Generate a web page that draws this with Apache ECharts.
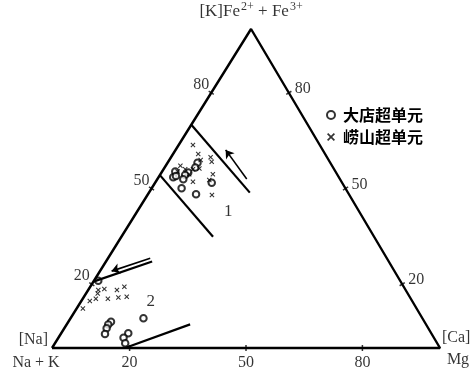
<!DOCTYPE html>
<html>
<head>
<meta charset="utf-8">
<script src="https://cdn.jsdelivr.net/npm/echarts@6/dist/echarts.min.js"></script>
<style>
html, body { margin: 0; padding: 0; background: #fff; }
#chart { width: 475px; height: 376px; }
</style>
</head>
<body>
<div id="chart"></div>
<script>
// compositions in percent: [Na+K, Fe2+ + Fe3+, Mg]
var dadianPts = [
  [34.2, 58.1, 7.7], [35.5, 56.6, 7.9], [38.1, 55.0, 6.9], [39.3, 54.2, 6.5],
  [41.3, 55.3, 3.4], [42.7, 53.5, 3.8], [40.4, 52.9, 6.7], [42.2, 50.1, 7.7],
  [39.4, 48.2, 12.4], [33.6, 51.8, 14.6], [41.8, 53.9, 4.3],
  [77.8, 21.1, 1.1], [80.8, 8.2, 11.0], [81.9, 7.4, 10.7], [82.9, 6.2, 10.9],
  [84.2, 4.4, 11.4], [78.1, 4.6, 17.3], [80.0, 3.2, 16.8], [80.4, 1.5, 18.1],
  [71.9, 9.3, 18.8]
];
var laoshanPts = [
  [32.7, 63.6, 3.7], [32.7, 60.8, 6.5], [33.0, 58.9, 8.1], [30.0, 59.8, 10.2],
  [30.4, 58.4, 11.2], [32.0, 54.5, 13.5], [35.4, 48.0, 16.6], [34.6, 56.3, 9.1],
  [36.4, 56.0, 7.6], [38.4, 56.0, 5.6], [39.1, 57.1, 3.8], [38.1, 54.5, 7.4],
  [38.3, 52.1, 9.6], [40.7, 55.3, 4.0], [33.8, 52.7, 13.5],
  [86.0, 12.4, 1.6], [83.1, 14.7, 2.2], [81.2, 15.4, 3.4], [78.1, 15.4, 6.5],
  [75.2, 15.8, 9.0], [72.9, 16.1, 11.0], [74.4, 18.2, 7.4], [72.0, 19.2, 8.8],
  [77.5, 18.5, 4.0], [79.2, 18.2, 2.6], [79.9, 17.1, 3.0]
];
// field boundaries and trend arrows
var field1Upper = [[30, 70, 0], [25.3, 48.7, 26]];
var field1Lower = [[45.8, 54.2, 0], [41.5, 34.9, 23.6]];
var arrow1 = [[24, 53, 23], [25, 62.1, 12.9]];
var field2Upper = [[79.2, 20.8, 0], [61, 27.1, 11.9]];
var arrow2 = [[61, 28.1, 10.9], [72.9, 24.1, 3]];
var field2Lower = [[81.2, 0, 18.8], [60.8, 7.4, 31.8]];
var fieldNames = ['1', '2'];
var fieldLabelPts = [[33.7, 42.9, 23.4], [67.5, 14.5, 18]];
var tickValues = [20, 50, 80];

var APEX = 0.513; // horizontal position of the top corner along the base
function tern(p) {
  var s = p[0] + p[1] + p[2];
  var f = p[1] / s, m = p[2] / s;
  return [(m + APEX * f) * 100, f * 100];
}

var serif = 'Liberation Serif';
var cross = 'path://M0,1.5L1.5,0L5,3.5L8.5,0L10,1.5L6.5,5L10,8.5L8.5,10L5,6.5L1.5,10L0,8.5L3.5,5Z';

var cornerNa = tern([100, 0, 0]), cornerFe = tern([0, 100, 0]), cornerMg = tern([0, 0, 100]);

function seg(pts) {
  return {
    type: 'line', data: pts.map(tern), symbol: 'none', silent: true, clip: false,
    lineStyle: { color: '#000', width: 2.2 }
  };
}
function arrow(pts) {
  return {
    type: 'lines', coordinateSystem: 'cartesian2d', silent: true,
    symbol: ['none', 'arrow'], symbolSize: 8,
    lineStyle: { color: '#000', width: 1.6, opacity: 1 },
    data: [{ coords: pts.map(tern) }]
  };
}
function ticks(pts, rot) {
  return {
    type: 'scatter', data: pts.map(tern), symbol: 'rect', symbolSize: [1.5, 6],
    symbolRotate: rot, silent: true, clip: false, itemStyle: { color: '#000' }
  };
}
function tickLabels(pts, label) {
  return {
    type: 'scatter', data: pts.map(function (p, i) { return { value: tern(p), name: String(tickValues[i]) }; }),
    symbolSize: 0, silent: true, clip: false,
    label: Object.assign({ show: true, formatter: '{b}', color: '#000', fontFamily: serif, fontSize: 16 }, label)
  };
}
function cornerLabel(pt, text, label) {
  return {
    type: 'scatter', data: [{ value: pt, name: text }], symbolSize: 0, silent: true, clip: false,
    label: Object.assign({ show: true, formatter: '{b}', color: '#000', fontFamily: serif, fontSize: 16 }, label)
  };
}

var leftTicks = tickValues.map(function (v) { return [100 - v, v, 0]; });
var rightTicks = tickValues.map(function (v) { return [0, v, 100 - v]; });
var baseTicks = tickValues.map(function (v) { return [100 - v, 0, v]; });

var chart = echarts.init(document.getElementById('chart'));
chart.setOption({
  animation: false,
  backgroundColor: '#fff',
  grid: { left: 52, right: 35, top: 29, bottom: 28 },
  xAxis: { type: 'value', min: 0, max: 100, show: false },
  yAxis: { type: 'value', min: 0, max: 100, show: false },
  legend: {
    orient: 'vertical', left: 326, top: 107, padding: 0, itemGap: 6,
    itemWidth: 8, itemHeight: 8,
    textStyle: { fontFamily: 'Noto Sans CJK SC', fontWeight: 'bold', fontSize: 16, color: '#000', padding: [0, 0, 0, 3] },
    data: [{ name: '大店超单元', icon: 'emptyCircle' }, { name: '崂山超单元', icon: cross }]
  },
  series: [
    {
      type: 'line', data: [cornerNa, cornerFe, cornerMg, cornerNa], symbol: 'none', silent: true, clip: false,
      lineStyle: { color: '#000', width: 2.4 }
    },
    seg(field1Upper), seg(field1Lower), seg(field2Upper), seg(field2Lower),
    arrow(arrow1), arrow(arrow2),
    ticks(leftTicks, 58), ticks(rightTicks, -59), ticks(baseTicks, 0),
    tickLabels(leftTicks, { position: 'left', distance: 1, offset: [-1, -8] }),
    tickLabels(rightTicks, { position: 'right', distance: 6, offset: [0, -4] }),
    tickLabels(baseTicks, { position: 'bottom', distance: 7 }),
    cornerLabel(cornerFe, '[K]Fe{s|2+} + Fe{s|3+}', {
      position: 'top', distance: 7, fontSize: 17,
      rich: { s: { fontFamily: serif, fontSize: 12, color: '#000', padding: [0, 0, 9, 1] } }
    }),
    cornerLabel(cornerNa, '[Na]', { position: 'left', distance: 4, offset: [0, -8] }),
    cornerLabel(cornerNa, 'Na + K', { position: 'bottom', distance: 7, offset: [-16, 0] }),
    cornerLabel(cornerMg, '[Ca]', { position: 'right', distance: 2, offset: [0, -10] }),
    cornerLabel(cornerMg, 'Mg', { position: 'bottom', distance: 4, offset: [18, 0] }),
    {
      type: 'scatter', data: fieldLabelPts.map(function (p, i) { return { value: tern(p), name: fieldNames[i] }; }),
      symbolSize: 0, silent: true,
      label: { show: true, position: 'inside', formatter: '{b}', color: '#000', fontFamily: serif, fontSize: 17 }
    },
    {
      name: '大店超单元', type: 'scatter', data: dadianPts.map(tern),
      symbol: 'emptyCircle', symbolSize: 6.5,
      itemStyle: { color: '#000', borderColor: '#000', borderWidth: 1.2 }
    },
    {
      name: '崂山超单元', type: 'scatter', data: laoshanPts.map(tern),
      symbol: cross, symbolSize: 5,
      itemStyle: { color: '#000' }
    }
  ]
});
</script>
</body>
</html>
